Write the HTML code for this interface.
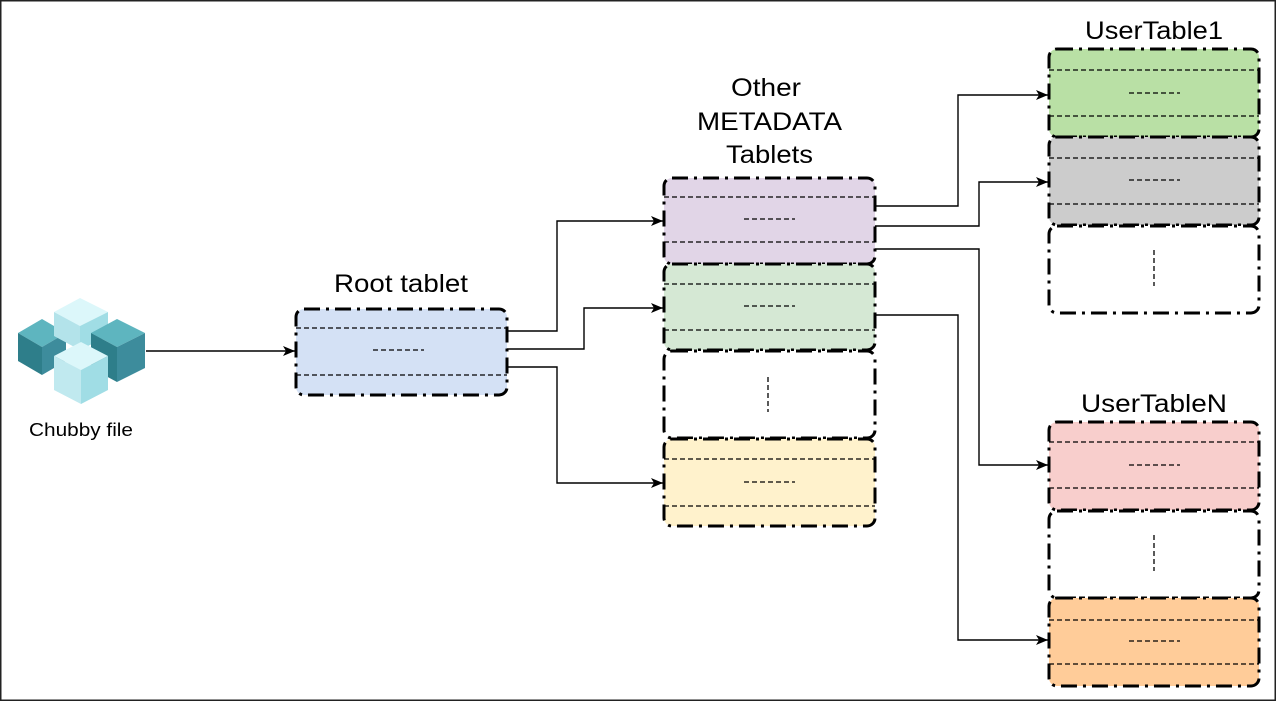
<!DOCTYPE html>
<html><head><meta charset="utf-8"><style>
html,body{margin:0;padding:0;background:#fff}
svg{display:block}
text{font-family:"Liberation Sans",sans-serif;fill:#000}
</style></head><body>
<svg width="1276" height="701" viewBox="0 0 1276 701" xmlns="http://www.w3.org/2000/svg">
<defs>
<marker id="a" markerWidth="12" markerHeight="10" refX="12" refY="5" orient="auto" markerUnits="userSpaceOnUse">
<path d="M0,0 L12,5 L0,10 L3,5 Z" fill="#000"/>
</marker>
</defs>
<rect x="0.75" y="0.75" width="1274.5" height="699.5" fill="none" stroke="#222" stroke-width="1.5"/>

<!-- cubes -->
<g>
<polygon points="18,333 42,319 66,333 42,347" fill="#5eb5bf"/>
<polygon points="18,333 42,347 42,375 18,361" fill="#2e7e8a"/>
<polygon points="42,347 66,333 66,361 42,375" fill="#3d8c9c"/>
<polygon points="54,312 80,298 108,312 80,326" fill="#dcf7fa"/>
<polygon points="54,312 80,326 80,350 54,336" fill="#b3e3ea"/>
<polygon points="80,326 108,312 108,336 80,350" fill="#a0dde5"/>
<polygon points="91,333 117,319 145,333 117,347" fill="#5eb5bf"/>
<polygon points="91,333 117,347 117,382 91,368" fill="#2e7e8a"/>
<polygon points="117,347 145,333 145,368 117,382" fill="#3d8c9c"/>
<polygon points="54,356 81,342 108,356 81,370" fill="#dcf7fa"/>
<polygon points="54,356 81,370 81,404 54,390" fill="#c0e9ef"/>
<polygon points="81,370 108,356 108,390 81,404" fill="#a0dde5"/>
</g>
<text x="29" y="436" font-size="18" textLength="104" lengthAdjust="spacingAndGlyphs">Chubby file</text>

<g font-size="25">
<text x="334" y="292" textLength="134" lengthAdjust="spacingAndGlyphs">Root tablet</text>
<text x="731" y="96" textLength="70" lengthAdjust="spacingAndGlyphs">Other</text>
<text x="697" y="130" textLength="145" lengthAdjust="spacingAndGlyphs">METADATA</text>
<text x="726" y="163" textLength="87" lengthAdjust="spacingAndGlyphs">Tablets</text>
<text x="1085" y="39" textLength="138" lengthAdjust="spacingAndGlyphs">UserTable1</text>
<text x="1081" y="412" textLength="146" lengthAdjust="spacingAndGlyphs">UserTableN</text>
</g>

<!-- boxes -->
<g stroke="#000" stroke-width="3" stroke-dasharray="16 6 3 6">
<rect x="296" y="309" width="211" height="86" rx="8" fill="#d4e1f5"/>
<rect x="664" y="178" width="211" height="86" rx="8" fill="#e1d5e7"/>
<rect x="664" y="264" width="211" height="86" rx="8" fill="#d5e8d4"/>
<rect x="664" y="351" width="211" height="87" rx="8" fill="#fff"/>
<rect x="664" y="439" width="211" height="87" rx="8" fill="#fff2cc"/>
<rect x="1049" y="49" width="210" height="88" rx="8" fill="#b9e0a5"/>
<rect x="1049" y="137" width="210" height="88" rx="8" fill="#cccccc"/>
<rect x="1049" y="226" width="210" height="87" rx="8" fill="#fff"/>
<rect x="1049" y="422" width="210" height="88" rx="8" fill="#f8cecc"/>
<rect x="1049" y="511" width="210" height="87" rx="8" fill="#fff"/>
<rect x="1049" y="598" width="210" height="88" rx="8" fill="#ffcc99"/>
</g>
<g stroke="#000" stroke-width="1.3" stroke-dasharray="5 3">
<path d="M296 328H507M296 375H507"/>
<path d="M664 197H875M664 242H875"/>
<path d="M664 284H875M664 330H875"/>
<path d="M664 459H875M664 506H875"/>
<path d="M1049 70H1259M1049 116H1259"/>
<path d="M1049 158H1259M1049 204H1259"/>
<path d="M1049 442H1259M1049 488H1259"/>
<path d="M1049 620H1259M1049 664H1259"/>
<path d="M373 350H424M744 219H795M744 306H795M744 482H795M1129 93H1180M1129 180H1180M1129 465H1180M1129 641H1180"/>
<path d="M768 377V412M1154 250V286M1154 535V571"/>
</g>

<!-- connectors -->
<g stroke="#000" stroke-width="1.4" fill="none" marker-end="url(#a)">
<path d="M146 351H295"/>
<path d="M507 331H557V221H663"/>
<path d="M507 349H584V308H663"/>
<path d="M507 367H557V483H663"/>
<path d="M875 206H958V95H1048"/>
<path d="M875 226H979V182H1048"/>
<path d="M875 249H979V465H1048"/>
<path d="M875 315H958V640H1048"/>
</g>
</svg>
</body></html>
